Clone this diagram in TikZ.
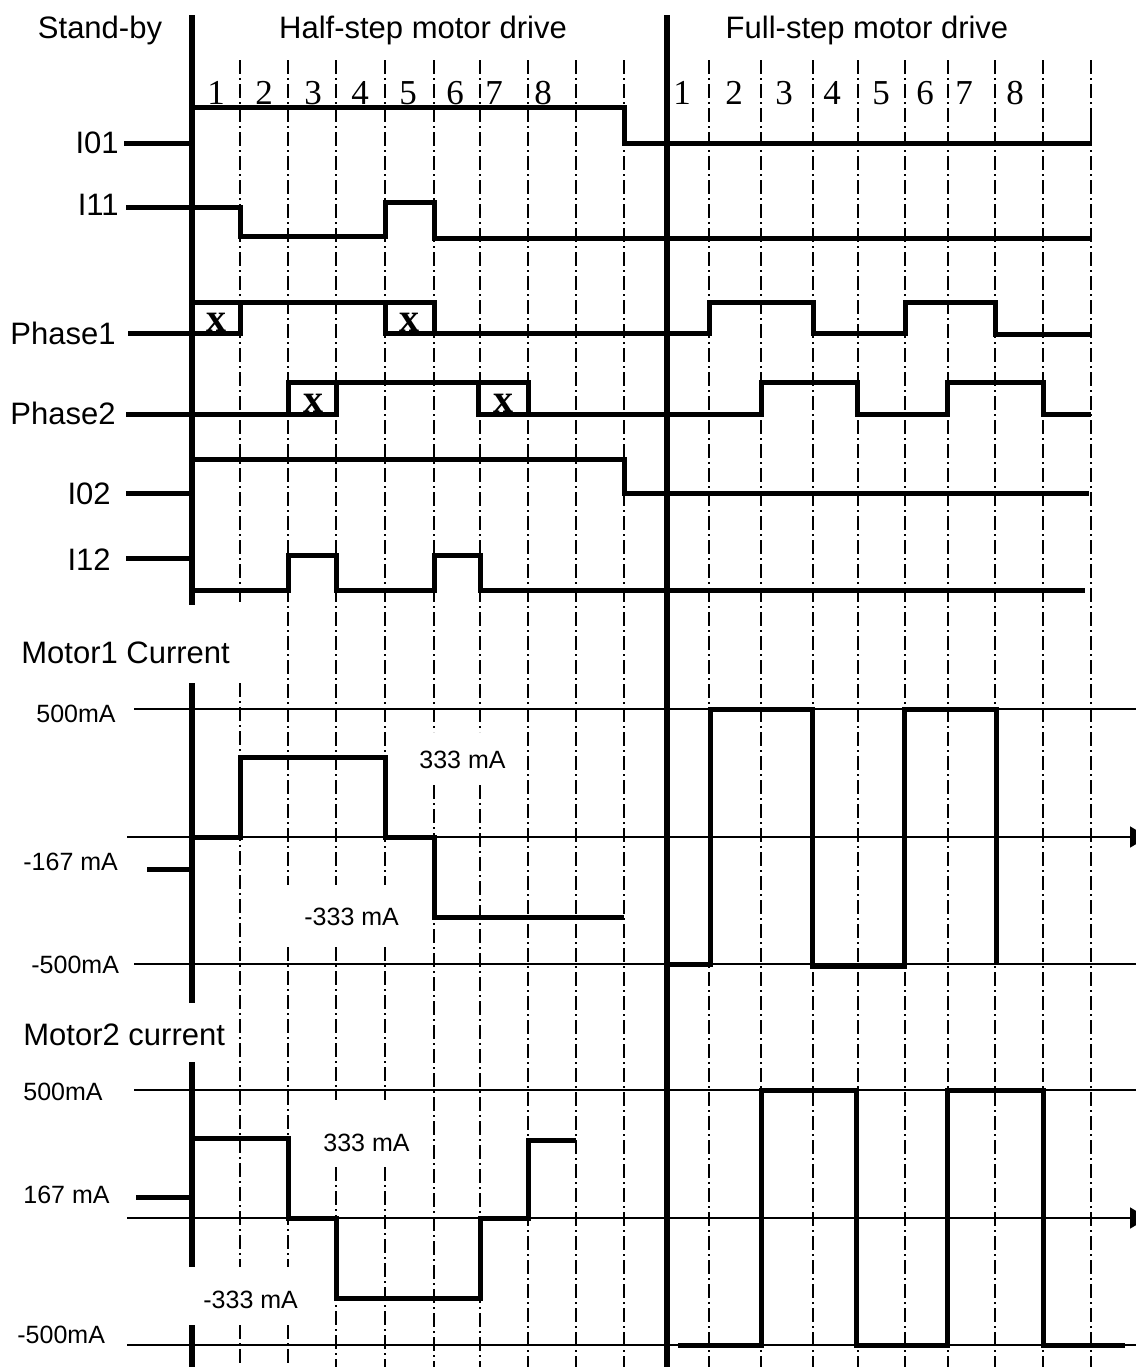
\documentclass[tikz,border=0pt]{standalone}
\usepackage{fontspec}
\setmainfont{Liberation Sans}
\newfontfamily\numfont{Liberation Serif}
\usetikzlibrary{arrows.meta,positioning}

\begin{document}
\begin{tikzpicture}[x=0.5pt,y=-0.5pt,
    sig/.style={line width=2.5pt,line join=miter},
    refline/.style={line width=0.9pt},
    gridline/.style={line width=0.8pt,dash pattern=on 7pt off 2pt on 1pt off 2pt},
    mainaxis/.style={line width=2.6pt},
    lbl/.style={font=\fontsize{15.5}{18}\selectfont,inner sep=0pt},
    val/.style={font=\fontsize{12.5}{15}\selectfont,inner sep=0pt},
    num/.style={font=\numfont\fontsize{17.5}{20}\selectfont,inner sep=0pt},
    xmark/.style={font=\numfont\bfseries\fontsize{20}{22}\selectfont,inner sep=0pt,anchor=base}]%
\useasboundingbox (0,0) rectangle (1136,1367);
%% step grid
\draw[gridline] (240,60)--(240,605) (240,683)--(240,1267) (240,1325)--(240,1367); %%
\draw[gridline] (288,60)--(288,885) (288,947)--(288,1267) (288,1325)--(288,1367); %%
\draw[gridline] (336,60)--(336,885) (336,947)--(336,1100) (336,1167)--(336,1367); %%
\draw[gridline] (385,60)--(385,885) (385,947)--(385,1100) (385,1167)--(385,1367); %%
\draw[gridline] (434,60)--(434,732) (434,785)--(434,1367); %%
\draw[gridline] (480,60)--(480,732) (480,785)--(480,1367); %%
\draw[gridline] (528,60)--(528,1367); %%
\draw[gridline] (576,60)--(576,1367); %%
\draw[gridline] (624,60)--(624,1367); %%
\draw[gridline] (709,60)--(709,1367); %%
\draw[gridline] (761,60)--(761,1367); %%
\draw[gridline] (813,60)--(813,1367); %%
\draw[gridline] (858,60)--(858,1367); %%
\draw[gridline] (905,60)--(905,1367); %%
\draw[gridline] (948,60)--(948,1367); %%
\draw[gridline] (995,60)--(995,1367); %%
\draw[gridline] (1043,60)--(1043,1367); %%
\draw[gridline] (1091,60)--(1091,1367); %%
%% axes
\draw[mainaxis] (192,15)--(192,605) (192,683)--(192,1003) (192,1062)--(192,1267) (192,1325)--(192,1367); %%
\draw[mainaxis] (667,15)--(667,1367); %%
%% headings
\node[lbl] (standby) at (100,30) {Stand-by}; %%
\node[lbl] (halfhead) at (423,30) {Half-step motor drive}; %%
\node[lbl] (fullhead) at (867,30) {Full-step motor drive}; %%
\begin{scope}
    \tikzstyle{every node}=[num];%%
    \node (h1) at (216,93) {1}; %%
    \node (h2) at (264,93) {2}; %%
    \node (h3) at (313,93) {3}; %%
    \node (h4) at (360,93) {4}; %%
    \node (h5) at (408,93) {5}; %%
    \node (h6) at (455,93) {6}; %%
    \node (h7) at (494,93) {7}; %%
    \node (h8) at (543,93) {8}; %%
    \node (f1) at (682,93) {1}; %%
    \node (f2) at (734,93) {2}; %%
    \node (f3) at (784,93) {3}; %%
    \node (f4) at (832,93) {4}; %%
    \node (f5) at (881,93) {5}; %%
    \node (f6) at (925,93) {6}; %%
    \node (f7) at (964,93) {7}; %%
    \node (f8) at (1015,93) {8}; %%
\end{scope}
%% input lines
\begin{scope}
    \tikzstyle{every node}=[lbl,anchor=east];%%
    \node (i01) at (119,143) {I01}; %%
    \node (i11) at (119,205) {I11}; %%
    \node (ph1) at (116,333) {Phase1}; %%
    \node (ph2) at (116,413) {Phase2}; %%
    \node (i02) at (111,494) {I02}; %%
    \node (i12) at (111,560) {I12}; %%
\end{scope}
\draw[sig] (124,143)--(192,143); %%
\draw[sig] (192,107)--(624,107)--(624,143)--(1091,143); %%
\draw[refline,line width=1.4pt] (1091,143)--(1091,108); %%
\draw[sig] (126,207)--(240,207)--(240,236)--(385,236)--(385,202)--(434,202)--(434,238)--(1091,238); %%
\draw[sig] (128,333)--(192,333); %%
\draw[sig] (192,302) rectangle (240,333); %%
\draw[sig] (240,302)--(434,302); %%
\draw[sig] (385,302) rectangle (434,333); %%
\draw[sig] (434,333)--(709,333)--(709,302)--(813,302)--(813,333)--(905,333)--(905,302)--(995,302)--(995,334)--(1091,334); %%
\draw[sig] (126,414)--(288,414); %%
\draw[sig] (288,382) rectangle (336,414); %%
\draw[sig] (336,382)--(478,382); %%
\draw[sig] (478,382) rectangle (528,414); %%
\draw[sig] (528,414)--(761,414)--(761,382)--(857,382)--(857,414)--(947,414)--(947,382)--(1043,382)--(1043,414)--(1091,414); %%
\node[xmark] (x1) at (216,331) {x}; %%
\node[xmark] (x2) at (409,331) {x}; %%
\node[xmark] (x3) at (313,412) {x}; %%
\node[xmark] (x4) at (503,412) {x}; %%
\draw[sig] (126,493)--(192,493); %%
\draw[sig] (192,459)--(624,459)--(624,493)--(1089,493); %%
\draw[sig] (126,558)--(192,558); %%
\draw[sig] (192,590)--(288,590)--(288,555)--(336,555)--(336,590)--(434,590)--(434,555)--(480,555)--(480,590)--(1085,590); %%
%% motor 1
\node[lbl,anchor=west] (m1) at (21,653) {Motor1 Current}; %%
\node[val,anchor=west] (m1top) at (36,714) {500mA}; %%
\node[val,anchor=west] (m1mid) at (23,862) {-167 mA}; %%
\node[val,anchor=west] (m1bot) at (31,965) {-500mA}; %%
\node[val,anchor=west] (m1hi) at (419,760) {333 mA}; %%
\node[val,anchor=west] (m1lo) at (304,917) {-333 mA}; %%
\draw[refline] (134,709)--(1136,709); %%
\draw[refline,-{Triangle[length=9pt,width=10.5pt]}] (127,837)--(1148,837); %%
\draw[refline] (134,964)--(1136,964); %%
\draw[sig] (147,869)--(192,869); %%
\draw[sig] (192,837)--(240,837)--(240,757)--(385,757)--(385,837)--(434,837)--(434,917)--(624,917); %%
\draw[sig] (670,964)--(710,964)--(710,709)--(812,709)--(812,966)--(904,966)--(904,709)--(996,709)--(996,964); %%
%% motor 2
\node[lbl,anchor=west] (m2) at (23,1035) {Motor2 current}; %%
\node[val,anchor=west] (m2top) at (23,1092) {500mA}; %%
\node[val,anchor=west] (m2mid) at (23,1195) {167 mA}; %%
\node[val,anchor=west] (m2bot) at (17,1335) {-500mA}; %%
\node[val,anchor=west] (m2hi) at (323,1143) {333 mA}; %%
\node[val,anchor=west] (m2lo) at (203,1300) {-333 mA}; %%
\draw[refline] (134,1090)--(1136,1090); %%
\draw[refline,-{Triangle[length=9pt,width=10.5pt]}] (127,1218)--(1148,1218); %%
\draw[refline] (127,1345)--(1136,1345); %%
\draw[sig] (136,1197)--(192,1197); %%
\draw[sig] (192,1138)--(288,1138)--(288,1218)--(336,1218)--(336,1298)--(480,1298)--(480,1218)--(528,1218)--(528,1140)--(576,1140); %%
\draw[sig] (678,1345)--(761,1345)--(761,1090)--(856,1090)--(856,1345)--(947,1345)--(947,1090)--(1043,1090)--(1043,1345)--(1125,1345); %%
\end{tikzpicture}
\end{document}
